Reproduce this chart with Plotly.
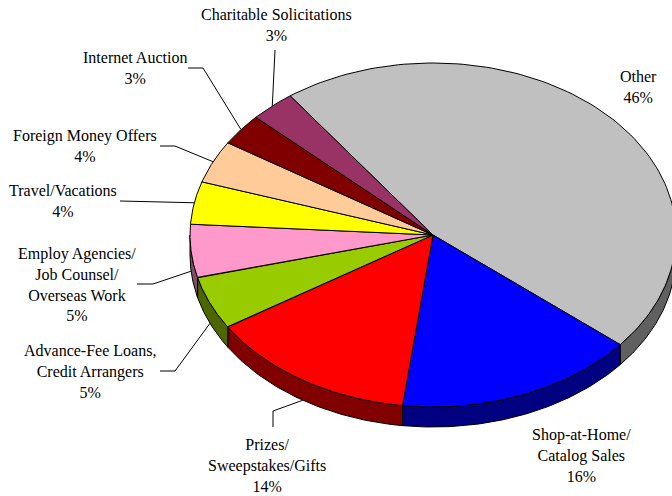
import numpy as np
import plotly.graph_objects as go

# Data
categories = ["Other", "Shop-at-Home/<br>Catalog Sales", "Prizes/<br>Sweepstakes/Gifts",
              "Advance-Fee Loans,<br>Credit Arrangers", "Employ Agencies/<br>Job Counsel/<br>Overseas Work",
              "Travel/Vacations", "Foreign Money Offers", "Internet Auction", "Charitable Solicitations"]
values = [46, 16, 14, 5, 5, 4, 4, 3, 3]

# Styles
top_colors = ["#C0C0C0", "#0000FF", "#FF0000", "#99CC00", "#FF99CC", "#FFFF00", "#FFCC99", "#800000", "#993366"]
side_colors = ["#606060", "#000080", "#800000", "#4D6600", "#804D66", "#808000", "#806650", "#400000", "#4D1A33"]

# Layout of the tilted pie, in pixels of the page
CX, CY, RX, RY, DEPTH = 433, 235, 243, 172, 20
START_DEG = -36

label_pos = [(638, 87), (581, 455), (267, 465), (90, 371), (77, 284), (63, 201), (85, 146), (135, 68), (276, 25)]
elbows = [None, None, [(273, 427), (273, 411)], [(160, 371), (175, 371)], [(137, 284), (153, 284)],
          [(120, 201)], [(160, 146), (175, 146)], [(188, 68), (203, 68)], [(275, 50)]]


def ell(t_deg, dy=0.0):
    t = np.radians(t_deg)
    return CX + RX * np.sin(t), CY - RY * np.cos(t) + dy


fig = go.Figure()
edges = START_DEG + np.concatenate([[0], np.cumsum(values)]) * 360.0 / sum(values)


def add_poly(x, y, color):
    fig.add_trace(go.Scatter(x=x, y=y, mode="lines", fill="toself", fillcolor=color,
                             line=dict(color="black", width=1), hoverinfo="skip", showlegend=False))


# Side walls
for i in range(len(values)):
    a = max(edges[i], 90)
    b = min(edges[i + 1], 270)
    if b <= a:
        continue
    ts = np.linspace(a, b, 60)
    x1, y1 = ell(ts)
    x2, y2 = ell(ts[::-1], DEPTH)
    add_poly(np.r_[x1, x2, x1[0]], np.r_[y1, y2, y1[0]], side_colors[i])

# Top faces
for i in range(len(values)):
    ts = np.linspace(edges[i], edges[i + 1], 120)
    x, y = ell(ts)
    add_poly(np.r_[CX, x, CX], np.r_[CY, y, CY], top_colors[i])

# Leader lines and labels
for i, (cat, v) in enumerate(zip(categories, values)):
    if elbows[i]:
        mid = (edges[i] + edges[i + 1]) / 2
        ex, ey = ell(mid, DEPTH if 90 < mid % 360 < 270 else 0)
        xs = [p[0] for p in elbows[i]] + [float(ex)]
        ys = [p[1] for p in elbows[i]] + [float(ey)]
        fig.add_trace(go.Scatter(x=xs, y=ys, mode="lines", line=dict(color="black", width=1),
                                 hoverinfo="skip", showlegend=False))
    fig.add_annotation(x=label_pos[i][0], y=label_pos[i][1], xref="x", yref="y",
                       text=f"{cat}<br>{v}%", showarrow=False, align="center",
                       font=dict(family="Liberation Serif", size=16, color="black"))

fig.update_layout(width=672, height=496, margin=dict(l=0, r=0, t=0, b=0),
                  paper_bgcolor="white", plot_bgcolor="white", showlegend=False,
                  xaxis=dict(visible=False, range=[0, 672], fixedrange=True),
                  yaxis=dict(visible=False, range=[496, 0], fixedrange=True))
fig.write_html("out.html", config=dict(displayModeBar=False),
               post_script="document.body.style.margin='0';document.documentElement.style.overflow='hidden';")
